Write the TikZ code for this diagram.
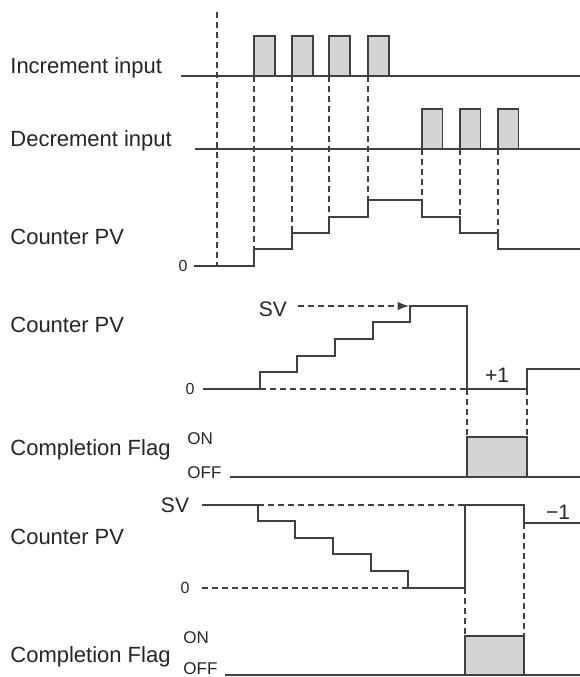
\documentclass[tikz,border=0pt]{standalone}
\usepackage{fontspec}
\setmainfont{Liberation Sans}
\usetikzlibrary{arrows.meta}

\begin{document}
\begin{tikzpicture}[
    x=0.5pt, y=-0.5pt,
    sig/.style={draw=black!75, line width=0.7pt},
    guide/.style={draw=black!75, line width=0.6pt, dash pattern=on 3pt off 2pt},
    pulse/.style={sig, fill=black!17},
    sigtext/.style={font=\fontsize{11}{13}\selectfont, anchor=west, inner sep=0pt, text=black!85},
    zerotext/.style={font=\fontsize{8}{9}\selectfont, inner sep=0pt, text=black!85},
    svtext/.style={font=\fontsize{10.5}{12}\selectfont, inner sep=0pt, text=black!85},
    onoff/.style={font=\fontsize{8.5}{10}\selectfont, anchor=west, inner sep=0pt, text=black!85},
    >=Latex
]

\fill[white] (0,0) rectangle (580,677);
\useasboundingbox (0,0) rectangle (580,677);

% Up/down counting (top)
\node[sigtext] (inc) at (10,68) {Increment input};
\node[sigtext] (dec) at (10,141) {Decrement input};
\node[sigtext] (pv1) at (10,237) {Counter PV};
\node[zerotext] (zero1) at (183,266) {0};

\draw[guide] (217,12) -- (217,266);
\draw[sig] (181,76) -- (580,76);
\foreach \x in {254,292,329,368} \filldraw[pulse] (\x,76) rectangle ++(21,-40);
\draw[sig] (195,149) -- (580,149);
\foreach \x in {422,460,498} \filldraw[pulse] (\x,149) rectangle ++(20.5,-40);

\draw[sig] (zero1.east) ++(6,0) -| (254,249) -| (292,233) -| (329,217) -| (368,200)
    -| (422,217) -| (460,233) -| (498,249) -- (580,249);
\foreach \x/\y in {254/249, 292/233, 329/217, 368/200} \draw[guide] (\x,76) -- (\x,\y);
\foreach \x/\y in {422/200, 460/217, 498/233} \draw[guide] (\x,149) -- (\x,\y);

% Up counting with completion flag (middle)
\node[sigtext] (pv2) at (10,325) {Counter PV};
\node[svtext] (sv2) at (273,309) {SV};
\node[zerotext] (zero2) at (190,389) {0};
\node[svtext] (plus) at (497,375) {+1};
\node[sigtext] (flag2) at (10,450) {Completion Flag};
\node[onoff] (on2) at (187,439) {ON};
\node[onoff] (off2) at (187,473) {OFF};

\draw[guide, ->] (298,306) -- (409,306);
\draw[sig] (203,389) -| (260,372) -| (297,356) -| (335,339) -| (373,322) -| (410,306)
    -| (467,389) -| (527,369) -- (580,369);
\draw[guide] (260,389) -- (467,389);
\draw[guide] (467,389) -- (467,437);
\draw[guide] (527,389) -- (527,437);
\draw[sig] (230,477) -- (467,477);
\filldraw[pulse] (467,477) rectangle (527,437);
\draw[sig] (527,477) -- (580,477);

% Down counting with completion flag (bottom)
\node[svtext] (sv3) at (175,505) {SV};
\node[sigtext] (pv3) at (10,537) {Counter PV};
\node[zerotext] (zero3) at (185,588) {0};
\node[svtext] (minus) at (558,512) {−1};
\node[sigtext] (flag3) at (10,657) {Completion Flag};
\node[onoff] (on3) at (183,638) {ON};
\node[onoff] (off3) at (183,669) {OFF};

\draw[sig] (202,505) -| (258,521) -| (295,538) -| (333,554) -| (371,571) -| (408,588)
    -| (465,505) -| (524,523) -- (580,523);
\draw[guide] (258,505) -- (465,505);
\draw[guide] (202,588) -- (408,588);
\draw[guide] (465,588) -- (465,636);
\draw[guide] (524,523) -- (524,636);
\draw[sig] (225,675) -- (465,675);
\filldraw[pulse] (465,675) rectangle (524,636);
\draw[sig] (524,675) -- (580,675);

\end{tikzpicture}
\end{document}
